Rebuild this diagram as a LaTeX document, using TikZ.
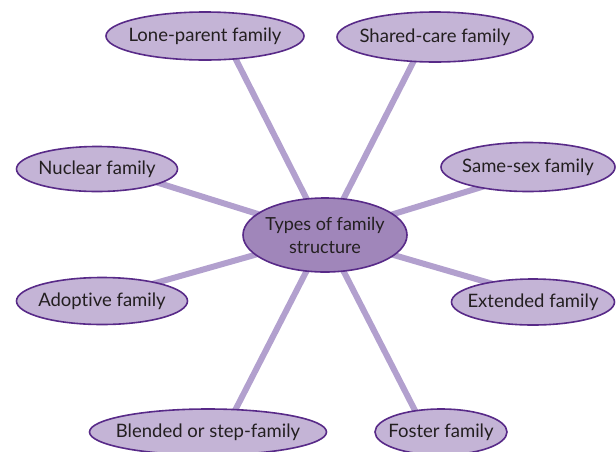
\documentclass[tikz,border=0pt]{standalone}
\usepackage{fontspec}
\setmainfont[Ligatures=NoCommon]{Lato}
\usetikzlibrary{shapes.geometric,calc,backgrounds}
\definecolor{outerfill}{RGB}{196,180,214}
\definecolor{centerfill}{RGB}{160,134,186}
\definecolor{edgepurple}{RGB}{88,42,136}
\definecolor{linkcol}{RGB}{178,160,206}
\definecolor{txt}{RGB}{35,31,32}
\tikzset{
  labtext/.style={text=txt, inner sep=0pt, align=center, font=\fontsize{18.5}{22}\selectfont},
  hubtext/.style={text=txt, inner sep=0pt, align=center, font=\fontsize{18}{23}\selectfont},
  famnode/.style={ellipse, draw=edgepurple, line width=1.6pt, fill=outerfill, inner sep=0pt},
  hubnode/.style={ellipse, draw=edgepurple, line width=1.6pt, fill=centerfill, inner sep=0pt, minimum width=164pt, minimum height=74pt},
  link/.style={draw=linkcol, line width=6pt}
}
\begin{document}
\begin{tikzpicture}[x=1pt,y=-1pt]
\useasboundingbox (0,0) rectangle (616,451);
\node[hubnode, label={[hubtext]center:Types of family\\structure}] (c) at (325,235) {};
\node[famnode, minimum width=198pt, minimum height=48pt, label={[labtext]center:Lone-parent family}] (lp) at (205,36) {};
\node[famnode, minimum width=196pt, minimum height=50pt, label={[labtext]center:Shared-care family}] (sc) at (435,37) {};
\node[famnode, minimum width=161pt, minimum height=45pt, label={[labtext]center:Nuclear family}] (nu) at (97,169) {};
\node[famnode, minimum width=174pt, minimum height=49pt, label={[labtext]center:Same-sex family}] (ss) at (528,167) {};
\node[famnode, minimum width=171pt, minimum height=47pt, label={[labtext]center:Adoptive family}] (ad) at (102,301) {};
\node[famnode, minimum width=163pt, minimum height=46pt, label={[labtext]center:Extended family}] (ex) at (533,302) {};
\node[famnode, minimum width=237pt, minimum height=46pt, label={[labtext]center:Blended or step-family}] (bl) at (208,432) {};
\node[famnode, minimum width=132pt, minimum height=46pt, label={[labtext]center:Foster family}] (fo) at (441,432) {};
\begin{scope}[on background layer]
\draw[link] (c.center) -- ($(lp.center)+(19,0)$);
\draw[link] (c.center) -- ($(sc.center)+(-9,0)$);
\draw[link] (c.center) -- ($(nu.center)+(17,0)$);
\draw[link] (c.center) -- ($(ss.center)+(19,0)$);
\draw[link] (c.center) -- ($(ad.center)+(-10,0)$);
\draw[link] (c.center) -- ($(ex.center)+(22,0)$);
\draw[link] (c.center) -- ($(bl.center)+(16,0)$);
\draw[link] (c.center) -- ($(fo.center)+(-15,0)$);
\end{scope}
\end{tikzpicture}
\end{document}
